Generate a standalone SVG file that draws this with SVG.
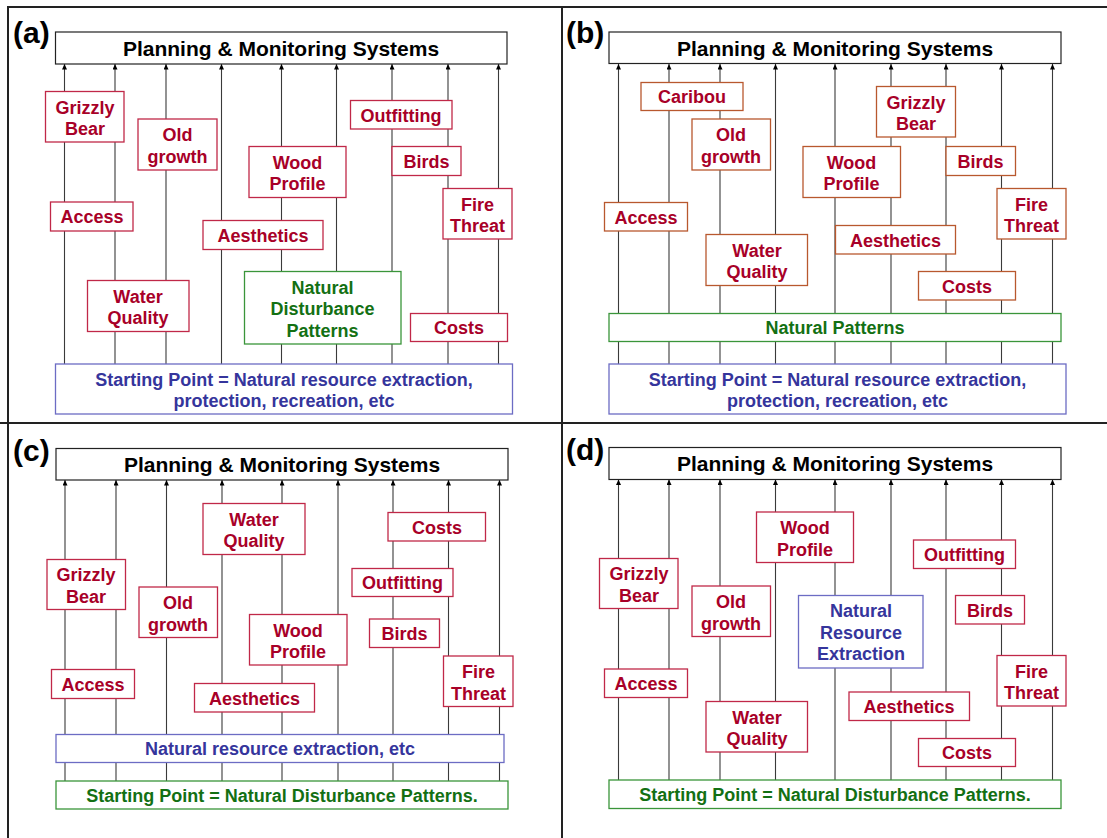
<svg xmlns="http://www.w3.org/2000/svg" width="1107" height="838" viewBox="0 0 1107 838">
<style>
text{font-family:"Liberation Sans",Arial,sans-serif;font-weight:bold;text-anchor:middle}
.frame{stroke:#222;stroke-width:2;fill:none}
.top{fill:#fff;stroke:#222;stroke-width:1.2}
.top text,.tt{font-size:21px;fill:#000}
.lbl{font-size:30px;fill:#000;text-anchor:start}
.r rect{fill:#fff;stroke:#c02848;stroke-width:1.3}
.o rect{fill:#fff;stroke:#b8582e;stroke-width:1.3}
.r text,.o text{font-size:18px;fill:#a80028}
.g rect{fill:#fff;stroke:#3a953a;stroke-width:1.3}
.g text{font-size:18px;fill:#137013}
.b rect{fill:#fff;stroke:#6c6cc4;stroke-width:1.3}
.b text{font-size:18px;fill:#35359c}
.conn line{stroke:#3a3a3a;stroke-width:1.1;marker-end:url(#ah)}
</style>
<defs>
<marker id="ah" markerUnits="userSpaceOnUse" markerWidth="6" markerHeight="6" refX="5.5" refY="2.5" orient="auto">
<path d="M0,0 L5.5,2.5 L0,5 z" fill="#000"/>
</marker>
</defs>
<rect width="1107" height="838" fill="#fff"/>
<g id="frame">
<line class="frame" x1="8" y1="7" x2="1107" y2="7"/>
<line class="frame" x1="8" y1="6" x2="8" y2="838"/>
<line class="frame" x1="562" y1="7" x2="562" y2="838"/>
<line class="frame" x1="0" y1="423" x2="1107" y2="423"/>
</g>
<g id="labels">
<text class="lbl" x="13" y="43">(a)</text>
<text class="lbl" x="566" y="43">(b)</text>
<text class="lbl" x="13" y="461">(c)</text>
<text class="lbl" x="566" y="460">(d)</text>
</g>
<g id="connectors" class="conn">
<line x1="64.5" y1="364" x2="64.5" y2="64"/>
<line x1="115" y1="364" x2="115" y2="64"/>
<line x1="166" y1="364" x2="166" y2="64"/>
<line x1="221.5" y1="364" x2="221.5" y2="64"/>
<line x1="281.5" y1="364" x2="281.5" y2="64"/>
<line x1="336.5" y1="364" x2="336.5" y2="64"/>
<line x1="392" y1="364" x2="392" y2="64"/>
<line x1="448" y1="364" x2="448" y2="64"/>
<line x1="498.5" y1="364" x2="498.5" y2="64"/>
<line x1="618.5" y1="364" x2="618.5" y2="64"/>
<line x1="669" y1="364" x2="669" y2="64"/>
<line x1="720" y1="364" x2="720" y2="64"/>
<line x1="775.5" y1="364" x2="775.5" y2="64"/>
<line x1="835" y1="364" x2="835" y2="64"/>
<line x1="891" y1="364" x2="891" y2="64"/>
<line x1="946" y1="364" x2="946" y2="64"/>
<line x1="1001.5" y1="364" x2="1001.5" y2="64"/>
<line x1="1052.5" y1="364" x2="1052.5" y2="64"/>
<line x1="65" y1="781" x2="65" y2="480"/>
<line x1="116" y1="781" x2="116" y2="480"/>
<line x1="166.5" y1="781" x2="166.5" y2="480"/>
<line x1="222" y1="781" x2="222" y2="480"/>
<line x1="282" y1="781" x2="282" y2="480"/>
<line x1="338" y1="781" x2="338" y2="480"/>
<line x1="393" y1="781" x2="393" y2="480"/>
<line x1="448.5" y1="781" x2="448.5" y2="480"/>
<line x1="499.5" y1="781" x2="499.5" y2="480"/>
<line x1="618.5" y1="780" x2="618.5" y2="479.5"/>
<line x1="669" y1="780" x2="669" y2="479.5"/>
<line x1="720" y1="780" x2="720" y2="479.5"/>
<line x1="775.5" y1="780" x2="775.5" y2="479.5"/>
<line x1="835" y1="780" x2="835" y2="479.5"/>
<line x1="891" y1="780" x2="891" y2="479.5"/>
<line x1="946" y1="780" x2="946" y2="479.5"/>
<line x1="1001.5" y1="780" x2="1001.5" y2="479.5"/>
<line x1="1052.5" y1="780" x2="1052.5" y2="479.5"/>
</g>

<!-- Panel a -->
<g id="a-top" class="top"><rect x="55.5" y="32" width="451.5" height="32"/><text x="281" y="55.5" stroke="none">Planning &amp; Monitoring Systems</text></g>
<g id="a-grizzly" class="r"><rect x="45.5" y="91.5" width="78.5" height="50.5"/><text x="85" y="113.5">Grizzly</text><text x="85" y="135">Bear</text></g>
<g id="a-oldgrowth" class="r"><rect x="138" y="119" width="79" height="51"/><text x="177.5" y="141">Old</text><text x="177.5" y="162.5">growth</text></g>
<g id="a-outfitting" class="r"><rect x="350.5" y="100.5" width="101.5" height="28.5"/><text x="401" y="121.5">Outfitting</text></g>
<g id="a-wood" class="r"><rect x="249" y="146.5" width="97" height="51"/><text x="297.5" y="168.5">Wood</text><text x="297.5" y="190">Profile</text></g>
<g id="a-birds" class="r"><rect x="392" y="146.5" width="69" height="29"/><text x="426.5" y="167.5">Birds</text></g>
<g id="a-fire" class="r"><rect x="443" y="188.5" width="69" height="50.5"/><text x="477.5" y="210.5">Fire</text><text x="477.5" y="232">Threat</text></g>
<g id="a-access" class="r"><rect x="50.5" y="202" width="82.5" height="29"/><text x="92" y="223">Access</text></g>
<g id="a-aesthetics" class="r"><rect x="203" y="220.5" width="120" height="29"/><text x="263" y="241.5">Aesthetics</text></g>
<g id="a-water" class="r"><rect x="87.5" y="280.5" width="101.5" height="51"/><text x="138" y="302.5">Water</text><text x="138" y="324">Quality</text></g>
<g id="a-natural" class="g"><rect x="244.5" y="271.5" width="156.5" height="72.5"/><text x="322.5" y="293.5">Natural</text><text x="322.5" y="315">Disturbance</text><text x="322.5" y="336.5">Patterns</text></g>
<g id="a-costs" class="r"><rect x="410.5" y="313.5" width="97" height="28"/><text x="459" y="334">Costs</text></g>
<g id="a-start" class="b"><rect x="55.5" y="364" width="457" height="50"/><text x="284" y="385.5">Starting Point = Natural resource extraction,</text><text x="284" y="406.5">protection, recreation, etc</text></g>

<!-- Panel b -->
<g id="b-top" class="top"><rect x="609" y="32" width="452" height="31.5"/><text x="835" y="55.5" stroke="none">Planning &amp; Monitoring Systems</text></g>
<g id="b-caribou" class="o"><rect x="641" y="82.5" width="102" height="28"/><text x="692" y="103">Caribou</text></g>
<g id="b-oldgrowth" class="o"><rect x="692" y="119" width="78.5" height="51"/><text x="731" y="141">Old</text><text x="731" y="162.5">growth</text></g>
<g id="b-grizzly" class="o"><rect x="876.5" y="86.5" width="79" height="50.5"/><text x="916" y="108.5">Grizzly</text><text x="916" y="130">Bear</text></g>
<g id="b-wood" class="o"><rect x="803" y="146.5" width="97.5" height="51"/><text x="851.5" y="168.5">Wood</text><text x="851.5" y="190">Profile</text></g>
<g id="b-birds" class="o"><rect x="946" y="146.5" width="69.5" height="29"/><text x="980.5" y="167.5">Birds</text></g>
<g id="b-fire" class="o"><rect x="997" y="188.5" width="69" height="50.5"/><text x="1031.5" y="210.5">Fire</text><text x="1031.5" y="232">Threat</text></g>
<g id="b-access" class="o"><rect x="604.5" y="202.5" width="83" height="28.5"/><text x="646" y="223.5">Access</text></g>
<g id="b-water" class="o"><rect x="706" y="234.5" width="101.5" height="51"/><text x="757" y="256.5">Water</text><text x="757" y="278">Quality</text></g>
<g id="b-aesthetics" class="o"><rect x="835.5" y="225.5" width="120" height="28.5"/><text x="895.5" y="246.5">Aesthetics</text></g>
<g id="b-costs" class="o"><rect x="918.5" y="271.5" width="97" height="28.5"/><text x="967" y="292.5">Costs</text></g>
<g id="b-natural" class="g"><rect x="609" y="313.5" width="452" height="28"/><text x="835" y="334">Natural Patterns</text></g>
<g id="b-start" class="b"><rect x="609" y="364" width="457" height="50"/><text x="837.5" y="385.5">Starting Point = Natural resource extraction,</text><text x="837.5" y="406.5">protection, recreation, etc</text></g>

<!-- Panel c -->
<g id="c-top" class="top"><rect x="56" y="448.5" width="452" height="31.5"/><text x="282" y="472" stroke="none">Planning &amp; Monitoring Systems</text></g>
<g id="c-water" class="r"><rect x="203" y="503.5" width="102" height="51"/><text x="254" y="525.5">Water</text><text x="254" y="547">Quality</text></g>
<g id="c-costs" class="r"><rect x="388" y="512.5" width="97.5" height="28.5"/><text x="437" y="533.5">Costs</text></g>
<g id="c-grizzly" class="r"><rect x="47" y="559.5" width="78.5" height="50"/><text x="86" y="581">Grizzly</text><text x="86" y="602.5">Bear</text></g>
<g id="c-outfitting" class="r"><rect x="352" y="568.5" width="101" height="28"/><text x="402.5" y="589">Outfitting</text></g>
<g id="c-oldgrowth" class="r"><rect x="139" y="587" width="78.5" height="50.5"/><text x="178" y="609">Old</text><text x="178" y="630.5">growth</text></g>
<g id="c-wood" class="r"><rect x="249.5" y="614.5" width="97.5" height="50.5"/><text x="298" y="636.5">Wood</text><text x="298" y="658">Profile</text></g>
<g id="c-birds" class="r"><rect x="369.5" y="619" width="70" height="28.5"/><text x="404.5" y="640">Birds</text></g>
<g id="c-fire" class="r"><rect x="443.5" y="656" width="69.5" height="50.5"/><text x="478.5" y="678">Fire</text><text x="478.5" y="699.5">Threat</text></g>
<g id="c-access" class="r"><rect x="51.5" y="669.5" width="83" height="29"/><text x="93" y="690.5">Access</text></g>
<g id="c-aesthetics" class="r"><rect x="194.5" y="683.5" width="120" height="28.5"/><text x="254.5" y="704.5">Aesthetics</text></g>
<g id="c-extraction" class="b"><rect x="56" y="734.5" width="448" height="28"/><text x="280" y="755">Natural resource extraction, etc</text></g>
<g id="c-start" class="g"><rect x="56" y="781" width="452" height="28"/><text x="282" y="801.5">Starting Point = Natural Disturbance Patterns.</text></g>

<!-- Panel d -->
<g id="d-top" class="top"><rect x="609" y="447.5" width="452" height="32"/><text x="835" y="471" stroke="none">Planning &amp; Monitoring Systems</text></g>
<g id="d-wood" class="r"><rect x="756.5" y="512" width="97" height="50.5"/><text x="805" y="534">Wood</text><text x="805" y="555.5">Profile</text></g>
<g id="d-outfitting" class="r"><rect x="913.5" y="540" width="102" height="28.5"/><text x="964.5" y="561">Outfitting</text></g>
<g id="d-grizzly" class="r"><rect x="599.5" y="558.5" width="78.5" height="50"/><text x="639" y="580">Grizzly</text><text x="639" y="601.5">Bear</text></g>
<g id="d-oldgrowth" class="r"><rect x="692" y="586" width="78.5" height="50.5"/><text x="731" y="608">Old</text><text x="731" y="629.5">growth</text></g>
<g id="d-extraction" class="b"><rect x="798.5" y="595.5" width="124.5" height="72.5"/><text x="861" y="617">Natural</text><text x="861" y="638.5">Resource</text><text x="861" y="660">Extraction</text></g>
<g id="d-birds" class="r"><rect x="955.5" y="595.5" width="69" height="28.5"/><text x="990" y="616.5">Birds</text></g>
<g id="d-fire" class="r"><rect x="997" y="655.5" width="69" height="50.5"/><text x="1031.5" y="677.5">Fire</text><text x="1031.5" y="699">Threat</text></g>
<g id="d-access" class="r"><rect x="604.5" y="669" width="83" height="28.5"/><text x="646" y="690">Access</text></g>
<g id="d-aesthetics" class="r"><rect x="849" y="692" width="120.5" height="28.5"/><text x="909" y="713">Aesthetics</text></g>
<g id="d-water" class="r"><rect x="706" y="701.5" width="101.5" height="50.5"/><text x="757" y="723.5">Water</text><text x="757" y="745">Quality</text></g>
<g id="d-costs" class="r"><rect x="918.5" y="738.5" width="97" height="28"/><text x="967" y="759">Costs</text></g>
<g id="d-start" class="g"><rect x="609" y="780" width="452" height="28.5"/><text x="835" y="801">Starting Point = Natural Disturbance Patterns.</text></g>
</svg>
